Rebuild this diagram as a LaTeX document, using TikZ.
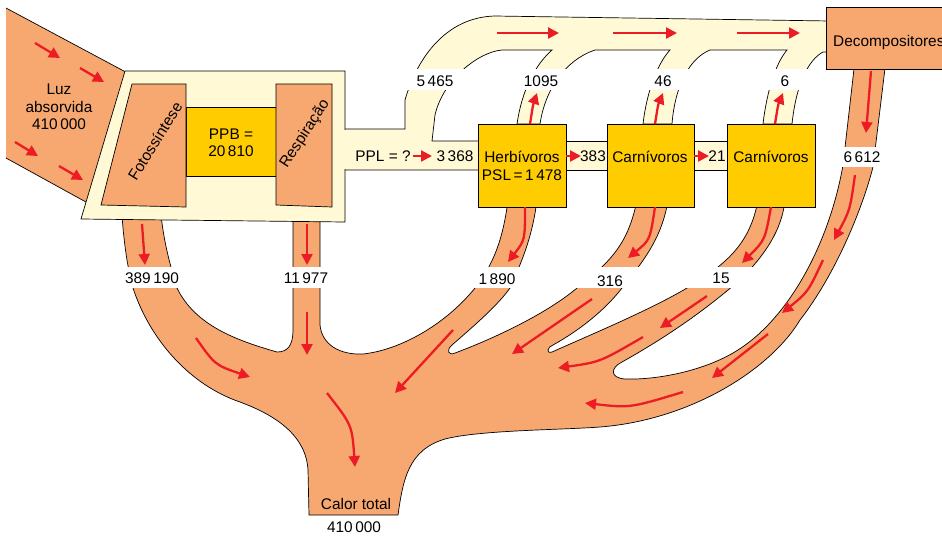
\documentclass[tikz,border=0pt]{standalone}
\usepackage{fontspec}
\setmainfont{Liberation Sans}
\usetikzlibrary{arrows.meta}
\definecolor{salmon}{RGB}{247,168,112}
\definecolor{cream}{RGB}{255,249,214}
\definecolor{gold}{RGB}{255,204,0}
\definecolor{flowred}{RGB}{237,28,36}

\begin{document}
\begin{tikzpicture}[x=1pt,y=-1pt,
heat/.style={fill=salmon,draw=black,line width=0.7pt},
crm/.style={fill=cream,draw=black,line width=0.7pt},
level/.style={fill=gold,draw=black,line width=0.7pt},
flow/.style={draw=flowred,line width=2.3pt,-{Triangle[length=11pt,width=11pt]}},
lbl/.style={font=\fontsize{15.4}{17.5}\selectfont,inner sep=0pt,align=center}]
\useasboundingbox (0,0) rectangle (942,539);

 % heat losses
 \draw[heat] (122,215) .. controls (124,245) and (128,270) .. (133,288)
  .. controls (150,340) and (190,385) .. (240,402)
  .. controls (275,415) and (306,435) .. (308,470) -- (309,515) -- (398,515)
  .. controls (403,480) and (408,450) .. (445,439)
  .. controls (480,430) and (560,430) .. (600,427)
  .. controls (690,420) and (770,370) .. (800,320)
  .. controls (835,275) and (862,210) .. (873,167) -- (886,60) -- (855,60) -- (843,165)
  .. controls (830,240) and (790,320) .. (733,353)
  .. controls (700,372) and (655,380) .. (625,379)
  .. controls (610,378) and (610,368) .. (622,362)
  .. controls (670,335) and (705,310) .. (740,280)
  .. controls (765,255) and (782,230) .. (785,200) -- (758,200)
  .. controls (750,245) and (725,265) .. (687,288)
  .. controls (650,310) and (590,335) .. (552,352)
  .. controls (546,354) and (547,347) .. (553,345)
  .. controls (580,330) and (605,310) .. (622,288)
  .. controls (640,265) and (662,240) .. (668,200) -- (637,200)
  .. controls (628,245) and (610,262) .. (577,288)
  .. controls (545,315) and (490,340) .. (455,353)
  .. controls (448,356) and (446,350) .. (452,345)
  .. controls (475,325) and (498,305) .. (510,288)
  .. controls (520,265) and (532,240) .. (537,200) -- (508,200)
  .. controls (503,240) and (493,265) .. (475,288)
  .. controls (445,325) and (400,350) .. (363,354)
  .. controls (340,355) and (322,345) .. (320,325) -- (320,215) -- (293,215) -- (293,330)
  .. controls (293,345) and (288,352) .. (277,352)
  .. controls (235,340) and (195,325) .. (177,288)
  .. controls (172,270) and (165,250) .. (161,215) -- cycle;

 % absorbed light
 \fill[salmon] (6,8) -- (135,77) -- (95,207) -- (6,158) -- cycle;
 \draw[line width=0.7pt] (6,8) -- (135,77) (6,158) -- (95,207);

 % net production to the consumers
 \draw[crm] (340,129) -- (405,129) -- (405,100) .. controls (418,55) and (448,17) .. (495,16)
  -- (830,21) -- (830,52) -- (823,52) .. controls (808,60) and (796,85) .. (792,124)
  -- (763,124) .. controls (767,90) and (776,63) .. (787,50)
  -- (710,50) .. controls (690,58) and (675,85) .. (672,124)
  -- (643,124) .. controls (647,90) and (658,63) .. (670,50)
  -- (595,50) .. controls (565,60) and (545,90) .. (540,124)
  -- (517,124) .. controls (522,90) and (535,65) .. (552,50)
  -- (502,50) .. controls (478,52) and (443,80) .. (435,115)
  -- (432,141) -- (485,141) -- (485,170) -- (340,170) -- cycle;
 \draw[crm] (560,141) rectangle (612,170);
 \draw[crm] (690,141) rectangle (732,170);

 % producers
 \draw[crm] (125,71) -- (345,71) -- (345,222) -- (81,219) -- cycle;
 \fill[cream] (343.5,129.6) rectangle (346.5,169.4);
 \draw[level] (186,107) rectangle (276,176);
 \draw[heat] (132,84) -- (186,84) -- (186,207) -- (101,205) -- cycle;
 \draw[heat] (276,84) -- (332,84) -- (332,207) -- (276,205) -- cycle;

 % consumers
 \draw[level] (478,124) rectangle (566,207);
 \draw[level] (607,124) rectangle (694,207);
 \draw[level] (727,124) rectangle (815,207);
 \draw[heat] (826,7) rectangle (950,69);

 % label strips
 \fill[white] (398,69) rectangle (818,90);
 \fill[white] (105,267) rectangle (765,288);
 \fill[white] (838,147) rectangle (884,167);

 \node[lbl] (luz) at (59,107) {Luz\\absorvida\\410\,000};
 \node[lbl] (ppb) at (231,143) {PPB =\\20\,810};
 \node[lbl,rotate=58] (foto) at (155,141) {Fotossíntese};
 \node[lbl,rotate=57] (resp) at (305,134) {Respiração};
 \node[lbl] (ppl) at (383,156) {PPL = ?};
 \node[lbl] (ppl2) at (455,156) {3\,368};
 \node[lbl] (herb) at (522,166) {Herbívoros\\PSL\,=\,1\,478};
 \node[lbl] (n383) at (593,156) {383};
 \node[lbl] (carn1) at (650,157) {Carnívoros};
 \node[lbl] (n21) at (717,156) {21};
 \node[lbl] (carn2) at (771,157) {Carnívoros};
 \node[lbl,anchor=base west] (dec) at (833,46.5) {Decompositores};
 \node[lbl] (n5465) at (435,81) {5\,465};
 \node[lbl] (n1095) at (541,81) {1095};
 \node[lbl] (n46) at (663,81) {46};
 \node[lbl] (n6) at (785,81) {6};
 \node[lbl] (n6612) at (862,157) {6\,612};
 \node[lbl] (n389) at (152,278) {389\,190};
 \node[lbl] (n11977) at (306,278) {11\,977};
 \node[lbl] (n1890) at (497,279) {1\,890};
 \node[lbl] (n316) at (610,281) {316};
 \node[lbl] (n15) at (721,278) {15};
 \node[lbl] (calor) at (356,504) {Calor total};
 \node[lbl] (total) at (354,527) {410\,000};

 % flow arrows
 \foreach \xa/\ya/\xb/\yb in {35/43/60/58,80/68/104/82,15/142/38/156,59/166/83/180,
  497/33/559/33,613/33/677/33,737/33/800/33,
  413/156/432/156,566/156/581/156,694/156/709/156,
  142/224/145/265,307/224/307/265,307/312/307/355,871/71/866/133,
  592/299/512/354,707/296/660/328,768/334/712/378,453/330/395/393}
  {\draw[flow] (\xa,\ya) -- (\xb,\yb);}
 \foreach \xa/\ya/\xc/\yc/\xb/\yb in {530/124/533/105/537/93,655/124/658/105/663/93,
  775/124/778/105/783/93,196/338/215/365/250/377,327/393/352/425/355/467,
  525/207/525/240/508/262,655/207/650/240/628/258,771/207/765/240/742/263,
  643/337/600/362/558/368,855/175/850/210/834/240,823/260/808/292/782/313,
  683/392/630/408/585/403}
  {\draw[flow] (\xa,\ya) .. controls (\xc,\yc) .. (\xb,\yb);}
\end{tikzpicture}
\end{document}
